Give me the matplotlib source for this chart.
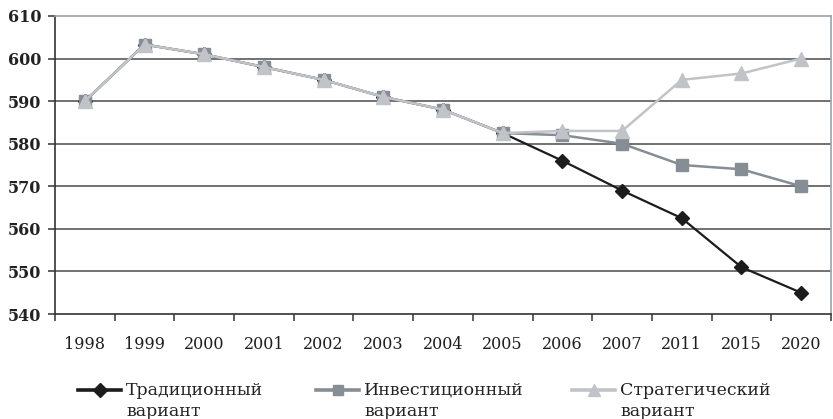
import matplotlib
matplotlib.use("Agg")
import matplotlib.pyplot as plt
from matplotlib.lines import Line2D
import numpy as np

years = ["1998", "1999", "2000", "2001", "2002", "2003", "2004",
         "2005", "2006", "2007", "2011", "2015", "2020"]
traditional = [590, 603.3, 601, 598, 595, 591, 588, 582.5, 576, 569, 562.5, 551, 545]
investment = [590, 603.3, 601, 598, 595, 591, 588, 582.5, 582, 580, 575, 574, 570]
strategic = [590, 603.3, 601, 598, 595, 591, 588, 582.5, 583, 583, 595, 596.5, 600]
labels = ["Традиционный\nвариант", "Инвестиционный\nвариант", "Стратегический\nвариант"]
yticks = [540, 550, 560, 570, 580, 590, 600, 610]

c_trad = "#1c1c1c"
c_inv = "#868d94"
c_str = "#c0c3c7"

fig = plt.figure(figsize=(8.33, 4.19), dpi=100)
ax = fig.add_axes([55 / 833, 1 - 314 / 419, 776 / 833, 298 / 419])

x = np.arange(len(years))
ax.plot(x, traditional, color=c_trad, lw=1.6, marker="D", ms=7.5, zorder=3)
ax.plot(x, investment, color=c_inv, lw=1.8, marker="s", ms=8.5, zorder=4)
ax.plot(x, strategic, color=c_str, lw=1.8, marker="^", ms=10.5, zorder=5)

ax.set_xlim(-0.5, len(years) - 0.5)
ax.set_ylim(540, 610)
ax.set_yticks(yticks)
ax.set_yticklabels([str(v) for v in yticks], fontfamily="DejaVu Serif",
                   fontweight="bold", fontsize=11.5, color="#222222")
for v in yticks[1:-1]:
    ax.axhline(v, color="#4a4a4a", lw=1.1, zorder=1)

ax.set_xticks(x)
ax.set_xticklabels(years, fontfamily="DejaVu Serif", fontsize=11.5, color="#1e1e1e")
ax.set_xticks(np.arange(len(years) + 1) - 0.5, minor=True)
ax.tick_params(axis="x", which="major", length=0, pad=16)
ax.tick_params(axis="x", which="minor", length=5, width=1.1, color="#333333", direction="out")
ax.tick_params(axis="y", length=5, width=1.1, color="#333333", direction="out", pad=5)

for side in ("left", "bottom"):
    ax.spines[side].set_color("#333333")
    ax.spines[side].set_linewidth(1.2)
for side in ("top", "right"):
    ax.spines[side].set_color("#9aa3aa")
    ax.spines[side].set_linewidth(1.2)

# legend drawn below the axes, handle aligned with the first text line
legend_items = [
    (78, c_trad, "D", 7, labels[0]),
    (316, c_inv, "s", 7, labels[1]),
    (572, c_str, "^", 8.5, labels[2]),
]
W, H = 833, 419
for x0, col, mk, ms, lab in legend_items:
    yy = 1 - 390 / H
    fig.add_artist(Line2D([x0 / W, (x0 + 43) / W], [yy, yy], transform=fig.transFigure,
                          color=col, lw=2.6))
    fig.add_artist(Line2D([(x0 + 21.5) / W], [yy], transform=fig.transFigure,
                          color=col, marker=mk, ms=ms, lw=0))
    first, second = lab.split("\n")
    fig.text((x0 + 48) / W, yy, first, ha="left", va="center",
             fontfamily="DejaVu Serif", fontsize=12.5, color="#222222")
    fig.text((x0 + 48) / W, 1 - 411 / H, second, ha="left", va="center",
             fontfamily="DejaVu Serif", fontsize=12.5, color="#222222")

fig.savefig("out.png", dpi=100)
